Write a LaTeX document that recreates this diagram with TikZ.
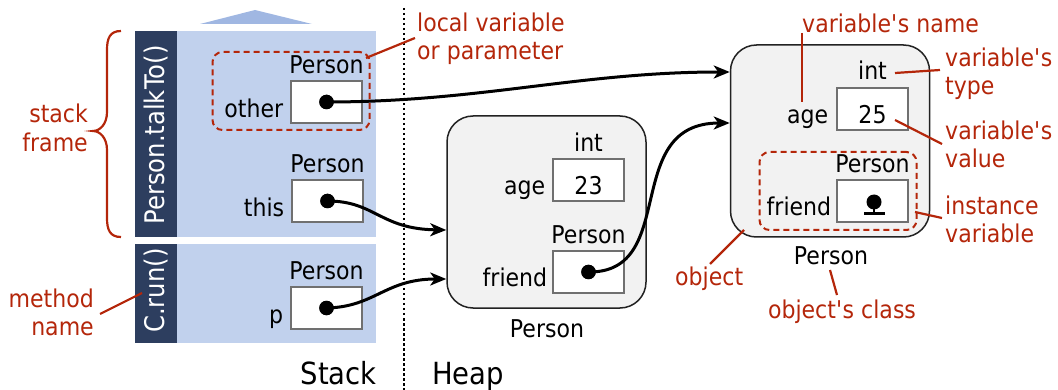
\documentclass[tikz,border=0pt]{standalone}
\usepackage{fontspec}
\setmainfont{DejaVu Sans}[FakeStretch=0.9]
\usetikzlibrary{arrows.meta}
\definecolor{framebg}{RGB}{193,209,237}
\definecolor{framebar}{RGB}{45,62,95}
\definecolor{growtri}{RGB}{160,183,226}
\definecolor{annot}{RGB}{180,38,10}
\definecolor{boxgray}{RGB}{112,112,112}
\definecolor{objfill}{RGB}{242,242,242}
\definecolor{objline}{RGB}{34,34,34}
\newcommand{\apos}{\textquotesingle}
\begin{document}
\begin{tikzpicture}[x=1pt,y=-1pt,
  lab/.style={font=\fontsize{24.5}{28}\selectfont, inner sep=0pt},
  note/.style={lab, text=annot},
  bigtitle/.style={font=\fontsize{30.5}{34}\selectfont, inner sep=0pt},
  vtitle/.style={font=\fontsize{27}{30}\selectfont, inner sep=0pt, rotate=90, text=white},
  valbox/.style={draw=boxgray, line width=1.2pt, fill=white, minimum width=71pt, minimum height=42pt, inner sep=0pt},
  objbox/.style={draw=objline, line width=1.5pt, fill=objfill, rounded corners=26pt, minimum width=199pt, minimum height=192pt, inner sep=0pt},
  scopebox/.style={draw=annot, line width=2pt, dash pattern=on 6pt off 4pt, rounded corners=10pt, minimum width=157pt, minimum height=78pt, inner sep=0pt},
  refline/.style={line width=3pt, -{Stealth[length=16pt,width=13pt,inset=4.5pt]}},
  refdot/.style={circle, fill=black, minimum size=14.5pt, inner sep=0pt},
  pointer/.style={draw=annot, line width=2.2pt},
  typelab/.style={lab, anchor=base},
  namelab/.style={lab, anchor=base east},
]
\useasboundingbox (0,0) rectangle (1058,390);

% ---- stack frames ----
\fill[framebg] (135,31) rectangle (376,237);
\fill[framebar] (135,31) rectangle (177,237);
\fill[framebg] (135,244) rectangle (376,343);
\fill[framebar] (135,244) rectangle (177,343);
\fill[growtri] (200,24) -- (255,10) -- (312,24) -- cycle;
\node[vtitle] (mTalk) at (156,135) {Person.talkTo()};
\node[vtitle] (mRun) at (156,290.5) {C.run()};

% stack / heap separator
\draw[line width=2.5pt, dash pattern=on 2.5pt off 2.5pt] (404,8) -- (404,390);
\node[bigtitle, anchor=base east] (stackT) at (377,384) {Stack};
\node[bigtitle, anchor=base west] (heapT) at (432,384) {Heap};

% local variable scope
\node[scopebox] (localScope) at (291,91) {};

% stack variables
\node[valbox] (bOther) at (326.5,102) {};
\node[valbox] (bThis) at (327.5,201) {};
\node[valbox] (bP) at (326.5,308) {};
\foreach \b/\n in {bOther/other, bThis/this, bP/p}{
  \node[typelab] at ([yshift=6.5pt]\b.north) {Person};
  \node[namelab] at ([xshift=-7pt,yshift=6.5pt]\b.south west) {\n};
}

% ---- heap objects ----
\node[objbox] (obj1) at (546.5,212) {};
\node[objbox] (obj2) at (830,141) {};
\node[lab, anchor=base] (cls1) at (547,337) {Person};
\node[lab, anchor=base] (cls2) at (831,265) {Person};

\node[valbox] (bAge1) at (588.5,180) {};
\node[valbox] (bFr1) at (588.5,272) {};
\node[typelab] at ([yshift=7pt]bAge1.north) {int};
\node[typelab] at ([yshift=7.5pt]bAge1.south) {23};
\node[namelab] at ([xshift=-7pt,yshift=7.5pt]bAge1.south west) {age};
\node[typelab] at ([yshift=6.5pt]bFr1.north) {Person};
\node[namelab] at ([xshift=-5pt,yshift=7.5pt]bFr1.south west) {friend};

\node[scopebox] (instScope) at (838,191) {};
\node[valbox] (bAge2) at (872.5,109) {};
\node[valbox] (bFr2) at (872.5,201) {};
\node[typelab] (int2) at ([yshift=7.5pt]bAge2.north) {int};
\node[typelab] (val2) at ([yshift=7pt]bAge2.south) {25};
\node[namelab] (age2) at ([xshift=-8pt,yshift=7pt]bAge2.south west) {age};
\node[typelab] at ([yshift=7pt]bFr2.north) {Person};
\node[namelab] at ([xshift=-5pt,yshift=7pt]bFr2.south west) {friend};

% null reference
\fill (874,202) circle (7.5pt);
\draw[line width=2.5pt] (874,202) -- (874,213);
\draw[line width=3pt] (864,213.5) -- (885,213.5);

% ---- references ----
\node[refdot] (dOther) at (bOther.center) {};
\node[refdot] (dThis) at (bThis.center) {};
\node[refdot] (dP) at (bP.center) {};
\node[refdot] (dFr1) at (bFr1.center) {};
\draw[refline] (dOther.center) .. controls (480,102) and (580,72) .. ([yshift=69pt]obj2.west);
\draw[refline] (dThis.center) .. controls (375,201) and (380,229) .. ([yshift=-18pt]obj1.west);
\draw[refline] (dP.center) .. controls (375,307) and (385,279) .. ([yshift=-67pt]obj1.west);
\draw[refline] (dFr1.center) .. controls (680,273) and (620,123) .. ([yshift=18pt]obj2.west);
\node[refdot] at (bOther.center) {};
\node[refdot] at (bThis.center) {};
\node[refdot] at (bP.center) {};
\node[refdot] at (bFr1.center) {};

% ---- annotations ----
\node[note, anchor=base west] (nLocal) at (417,32) {local variable};
\node[note, anchor=base west] (nLocalB) at (417,60) {or parameter};
\draw[pointer] (366,58) -- (415,38);

\node[note, anchor=base east] (nStack) at (88,123) {stack};
\node[note, anchor=base east] (nFrame) at (88,152) {frame};
\draw[pointer] (121,31) .. controls (110,31) and (107,38) .. (107,50) -- (107,112)
  .. controls (107,124) and (100,131) .. (93,131)
  .. controls (100,131) and (107,138) .. (107,150) -- (107,218)
  .. controls (107,230) and (110,237) .. (121,237);

\node[note, anchor=base east] (nMethod) at (94,308) {method};
\node[note, anchor=base east] (nName) at (94,335) {name};
\draw[pointer] (100,314) -- (142,293);

\node[note, anchor=base west] (nVarName) at (802,33) {variable\apos s name};
\draw[pointer] (802,33) -- (802,102);

\node[note, anchor=base west] (nType) at (945,67) {variable\apos s};
\node[note, anchor=base west] (nTypeB) at (945,95) {type};
\draw[pointer] (895,73) -- (940,70);

\node[note, anchor=base west] (nVal) at (945,140) {variable\apos s};
\node[note, anchor=base west] (nValB) at (945,168) {value};
\draw[pointer] (895,120) -- (942,144);

\node[note, anchor=base west] (nInst) at (945,215) {instance};
\node[note, anchor=base west] (nInstB) at (945,243) {variable};
\draw[pointer] (915,212) -- (942,218);

\node[note, anchor=base west] (nObj) at (675,285) {object};
\draw[pointer] (710,264) -- (744,230);

\node[note, anchor=base] (nClass) at (842,318) {object\apos s class};
\draw[pointer] (837,295) -- (830,270);
\end{tikzpicture}
\end{document}
